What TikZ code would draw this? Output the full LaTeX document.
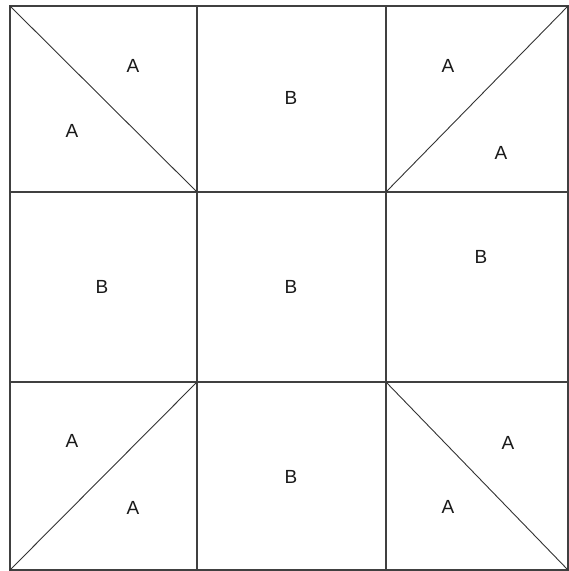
\documentclass[tikz,border=0pt]{standalone}
\usepackage{fontspec}
\setmainfont{Liberation Sans}
\begin{document}
\begin{tikzpicture}[x=1pt,y=-1pt,
  gridline/.style={draw=black!75,line width=1.3pt},
  diagline/.style={draw=black!80,line width=0.9pt},
  lbl/.style={font=\fontsize{19}{19}\selectfont,inner sep=0pt,text=black!90}]
\useasboundingbox (0,0) rectangle (569,571);
% grid coordinates
\coordinate (p00) at (10,6);   \coordinate (p10) at (197,6);   \coordinate (p20) at (386,6);   \coordinate (p30) at (568,6);
\coordinate (p01) at (10,192); \coordinate (p11) at (197,192); \coordinate (p21) at (386,192); \coordinate (p31) at (568,192);
\coordinate (p02) at (10,382); \coordinate (p12) at (197,382); \coordinate (p22) at (386,382); \coordinate (p32) at (568,382);
\coordinate (p03) at (10,570); \coordinate (p13) at (197,570); \coordinate (p23) at (386,570); \coordinate (p33) at (568,570);
% outer frame and inner lines
\draw[gridline] (p00) rectangle (p33);
\draw[gridline] (p10) -- (p13);
\draw[gridline] (p20) -- (p23);
\draw[gridline] (p01) -- (p31);
\draw[gridline] (p02) -- (p32);
% diagonals
\draw[diagline] (p00) -- (p11);
\draw[diagline] (p21) -- (p30);
\draw[diagline] (p03) -- (p12);
\draw[diagline] (p22) -- (p33);
% labels
\node[lbl] (a1) at (133,66) {A};
\node[lbl] (a2) at (72,131) {A};
\node[lbl] (b1) at (291,98) {B};
\node[lbl] (a3) at (448,66) {A};
\node[lbl] (a4) at (501,153) {A};
\node[lbl] (b2) at (102,287) {B};
\node[lbl] (b3) at (291,287) {B};
\node[lbl] (b4) at (481,257) {B};
\node[lbl] (a5) at (72,441) {A};
\node[lbl] (a6) at (133,508) {A};
\node[lbl] (b5) at (291,477) {B};
\node[lbl] (a7) at (508,443) {A};
\node[lbl] (a8) at (448,507) {A};
\end{tikzpicture}
\end{document}
